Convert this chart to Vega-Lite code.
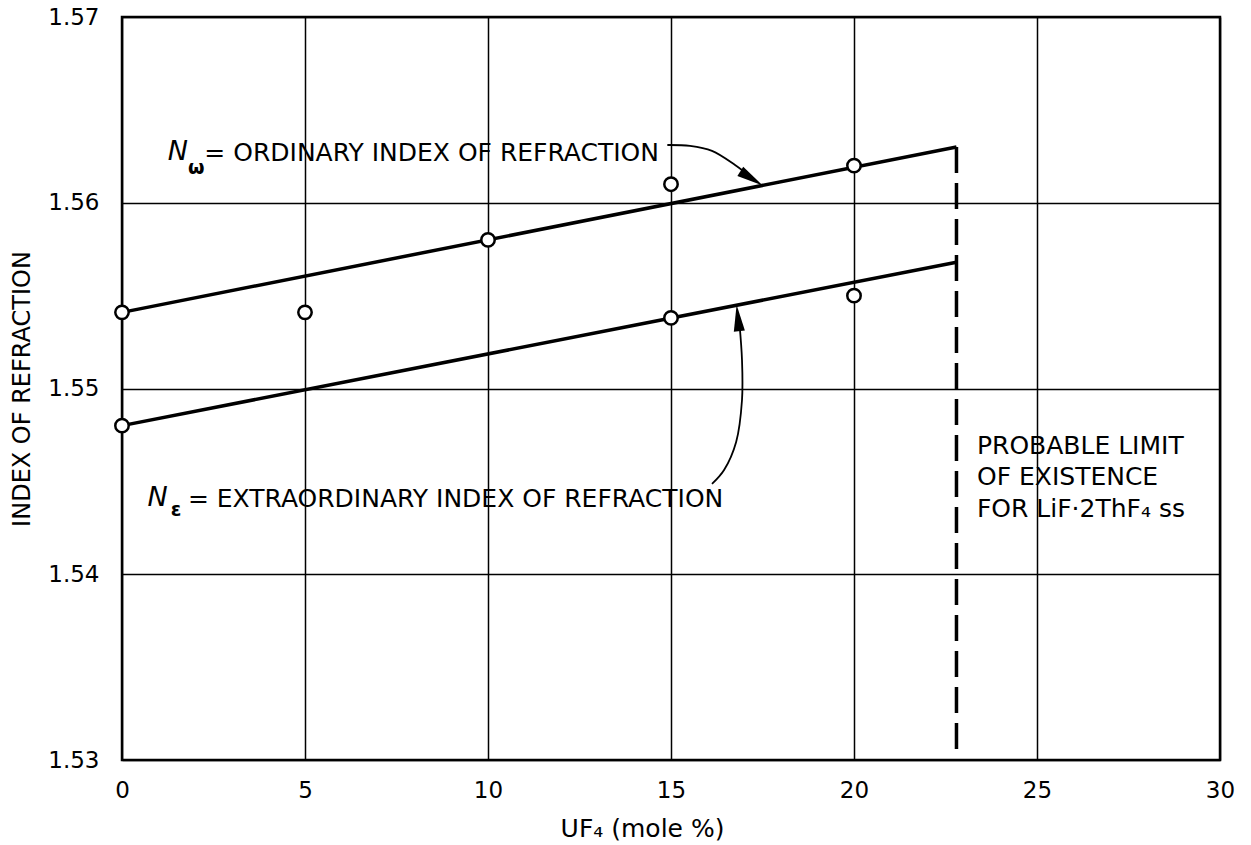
{
  "$schema": "https://vega.github.io/schema/vega-lite/v6.json",
  "autosize": {"type": "none"},
  "width": 1098,
  "height": 743,
  "padding": {"left": 122, "top": 17, "right": 31, "bottom": 85},
  "background": "white",
  "config": {
    "view": {"stroke": "black", "strokeWidth": 2.5},
    "font": "DejaVu Sans",
    "axis": {
      "domain": false,
      "ticks": false,
      "tickSize": 0,
      "grid": true,
      "gridColor": "black",
      "gridOpacity": 1,
      "gridWidth": 1.5,
      "labelFont": "DejaVu Sans",
      "labelFontSize": 23,
      "labelColor": "black",
      "labelFlush": false,
      "titleFont": "DejaVu Sans",
      "titleFontSize": 24,
      "titleFontWeight": "normal",
      "titleColor": "black"
    }
  },
  "datasets": {
    "fits": [
      {"series": "ordinary", "x": 0, "n": 1.5541},
      {"series": "ordinary", "x": 22.8, "n": 1.563},
      {"series": "extraordinary", "x": 0, "n": 1.548},
      {"series": "extraordinary", "x": 22.8, "n": 1.5568}
    ],
    "points": [
      {"series": "ordinary", "x": 0, "n": 1.5541},
      {"series": "ordinary", "x": 5, "n": 1.5541},
      {"series": "ordinary", "x": 10, "n": 1.558},
      {"series": "ordinary", "x": 15, "n": 1.561},
      {"series": "ordinary", "x": 20, "n": 1.562},
      {"series": "extraordinary", "x": 0, "n": 1.548},
      {"series": "extraordinary", "x": 15, "n": 1.5538},
      {"series": "extraordinary", "x": 20, "n": 1.555}
    ],
    "limit": [{"x": 22.8, "n": 1.563, "n2": 1.53}],
    "arrows": [
      {"arrow": "upper", "i": 0, "x": 14.9, "n": 1.56311},
      {"arrow": "upper", "i": 1, "x": 15.52, "n": 1.56306},
      {"arrow": "upper", "i": 2, "x": 16.12, "n": 1.56279},
      {"arrow": "upper", "i": 3, "x": 16.75, "n": 1.56203},
      {"arrow": "upper", "i": 4, "x": 17.2, "n": 1.56135},
      {"arrow": "lower", "i": 0, "x": 16.12, "n": 1.54486},
      {"arrow": "lower", "i": 1, "x": 16.45, "n": 1.54561},
      {"arrow": "lower", "i": 2, "x": 16.78, "n": 1.54712},
      {"arrow": "lower", "i": 3, "x": 16.94, "n": 1.54938},
      {"arrow": "lower", "i": 4, "x": 16.94, "n": 1.55153},
      {"arrow": "lower", "i": 5, "x": 16.87, "n": 1.5535}
    ],
    "heads": [
      {"x": 17.2, "n": 1.56131, "angle": 122},
      {"x": 16.83, "n": 1.5538, "angle": 354}
    ],
    "italic": [
      {"text": "N", "x": 1.25, "n": 1.56275},
      {"text": "N", "x": 0.7, "n": 1.54412}
    ],
    "subs": [
      {"text": "ω", "x": 1.8, "n": 1.56188},
      {"text": "ε", "x": 1.33, "n": 1.54345}
    ],
    "labels": [
      {"text": "= ORDINARY INDEX OF REFRACTION", "x": 2.25, "n": 1.56268},
      {"text": "= EXTRAORDINARY INDEX OF REFRACTION", "x": 1.8, "n": 1.54405},
      {"text": "PROBABLE LIMIT", "x": 23.36, "n": 1.5469},
      {"text": "OF EXISTENCE", "x": 23.36, "n": 1.54524},
      {"text": "FOR LiF·2ThF₄ ss", "x": 23.36, "n": 1.54351}
    ]
  },
  "encoding": {
    "x": {
      "field": "x", "type": "quantitative",
      "scale": {"domain": [0, 30], "nice": false, "zero": false},
      "axis": {
        "values": [0, 5, 10, 15, 20, 25, 30],
        "title": "UF₄  (mole %)",
        "titleFontSize": 25,
        "labelPadding": 30,
        "labelBaseline": "middle",
        "titleX": 520,
        "titleY": 68,
        "titleBaseline": "middle",
        "titleAlign": "center",
        "titleAnchor": null
      }
    },
    "y": {
      "field": "n", "type": "quantitative",
      "scale": {"domain": [1.53, 1.57], "nice": false, "zero": false},
      "axis": {
        "values": [1.53, 1.54, 1.55, 1.56, 1.57],
        "format": ".2f",
        "title": "INDEX OF REFRACTION",
        "labelPadding": 23,
        "titleX": -100,
        "titleY": 371.5,
        "titleAngle": -90,
        "titleBaseline": "middle",
        "titleAlign": "center",
        "titleAnchor": null
      }
    }
  },
  "layer": [
    {
      "data": {"name": "fits"},
      "mark": {"type": "line", "color": "black", "strokeWidth": 3.5},
      "encoding": {"detail": {"field": "series"}}
    },
    {
      "data": {"name": "limit"},
      "mark": {"type": "rule", "color": "black", "strokeWidth": 3.5, "strokeDash": [26, 10]},
      "encoding": {"y2": {"field": "n2"}}
    },
    {
      "data": {"name": "arrows"},
      "mark": {"type": "line", "color": "black", "strokeWidth": 1.8, "interpolate": "catmull-rom"},
      "encoding": {"detail": {"field": "arrow"}, "order": {"field": "i"}}
    },
    {
      "data": {"name": "heads"},
      "mark": {"type": "point", "shape": "M0,-1L0.42,1L-0.42,1Z", "filled": true, "color": "black", "opacity": 1, "size": 700},
      "encoding": {"angle": {"field": "angle", "type": "quantitative", "scale": null}}
    },
    {
      "data": {"name": "points"},
      "mark": {"type": "point", "shape": "circle", "filled": false, "fill": "white", "fillOpacity": 1, "stroke": "black", "strokeWidth": 2.5, "opacity": 1, "size": 180}
    },
    {
      "data": {"name": "labels"},
      "mark": {"type": "text", "align": "left", "baseline": "middle", "color": "black", "font": "DejaVu Sans", "fontSize": 25},
      "encoding": {"text": {"field": "text"}}
    },
    {
      "data": {"name": "italic"},
      "mark": {"type": "text", "align": "left", "baseline": "middle", "color": "black", "font": "DejaVu Sans", "fontSize": 27, "fontStyle": "italic"},
      "encoding": {"text": {"field": "text"}}
    },
    {
      "data": {"name": "subs"},
      "mark": {"type": "text", "align": "left", "baseline": "middle", "color": "black", "font": "DejaVu Sans", "fontSize": 19, "fontWeight": "bold"},
      "encoding": {"text": {"field": "text"}}
    }
  ]
}
